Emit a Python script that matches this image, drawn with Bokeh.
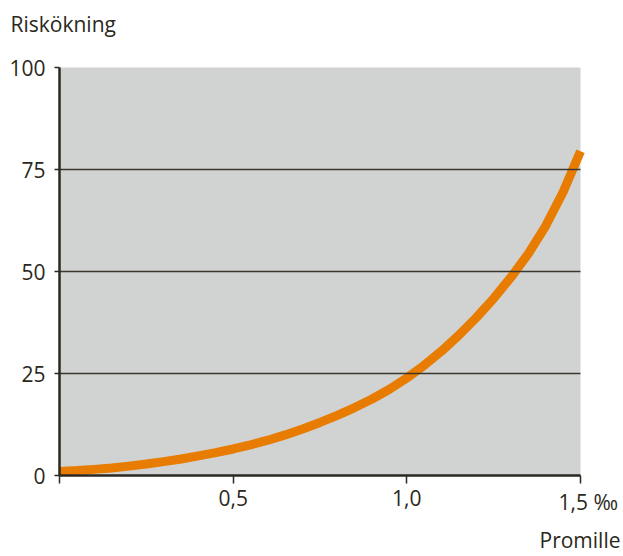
from bokeh.plotting import figure
from bokeh.models import Range1d, FixedTicker, CustomJSTickFormatter, Label, LinearAxis
from bokeh.embed import file_html
from bokeh.resources import INLINE

# Data
promille = [0.0, 0.05, 0.1, 0.15, 0.2, 0.25, 0.3, 0.35, 0.4, 0.45, 0.5, 0.55, 0.6, 0.65, 0.7, 0.75,
            0.8, 0.85, 0.9, 0.95, 1.0, 1.05, 1.1, 1.15, 1.2, 1.25, 1.3, 1.35, 1.4, 1.45, 1.5]
riskokning = [1.0, 1.2, 1.5, 1.85, 2.3, 2.8, 3.4, 4.05, 4.8, 5.6, 6.5, 7.5, 8.65, 9.95, 11.4, 13.0,
              14.75, 16.65, 18.75, 21.15, 23.9, 27.0, 30.5, 34.4, 38.7, 43.4, 48.6, 54.4, 61.2, 69.5, 79.5]
y_ticks = [0, 25, 50, 75, 100]
grid_ticks = [25, 50, 75]
x_ticks = [0, 0.5, 1.0, 1.5]
x_tick_labels = {"0.5": "0,5", "1": "1,0"}

TEXT = "#2b2820"
FONT = "Open Sans"

# Frame covers the whole canvas; axes are placed at fixed data locations.
p = figure(width=623, height=556, output_backend="svg", toolbar_location=None,
           x_range=Range1d(-0.16987, 1.62381), y_range=Range1d(-19.853, 116.422),
           x_axis_location=None, y_axis_location=None,
           min_border=0)
p.center = []
p.background_fill_color = "white"
p.border_fill_color = "white"
p.outline_line_color = None

# grey plotting area
p.quad(left=x_ticks[0], right=x_ticks[-1], bottom=y_ticks[0], top=y_ticks[-1],
       fill_color="#d1d3d2", line_color=None)

p.line(promille, riskokning, line_width=9, line_color="#e87c00", line_cap="butt", line_join="round")

# horizontal grid lines (on top of the curve)
p.segment(x0=[x_ticks[0]] * len(grid_ticks), x1=[x_ticks[-1]] * len(grid_ticks),
          y0=grid_ticks, y1=grid_ticks, line_color="#3a372d", line_width=1.5)

# y axis
ya = LinearAxis(fixed_location=0, bounds=(0, 100), ticker=FixedTicker(ticks=y_ticks))
ya.minor_tick_line_color = None
ya.major_tick_in = 0
ya.major_tick_out = 5
ya.major_tick_line_color = TEXT
ya.major_tick_line_width = 1.5
ya.axis_line_color = TEXT
ya.axis_line_width = 2.5
ya.major_label_text_font = FONT
ya.major_label_text_font_size = "21px"
ya.major_label_text_color = TEXT
ya.major_label_standoff = 9
p.add_layout(ya, "left")

# x axis
xa = LinearAxis(fixed_location=0, bounds=(0, 1.5), ticker=FixedTicker(ticks=x_ticks))
xa.formatter = CustomJSTickFormatter(args=dict(labels=x_tick_labels),
                                     code="const k = String(tick); return (k in labels) ? labels[k] : '';")
xa.minor_tick_line_color = None
xa.major_tick_in = 0
xa.major_tick_out = 8
xa.major_tick_line_color = TEXT
xa.major_tick_line_width = 1.5
xa.axis_line_color = TEXT
xa.axis_line_width = 2.5
xa.major_label_text_font = FONT
xa.major_label_text_font_size = "21px"
xa.major_label_text_color = TEXT
xa.major_label_standoff = 6
p.add_layout(xa, "below")

def lab(text, x, y, align, size="21px"):
    return Label(x=x, y=y, text=text, text_font=FONT, text_font_size=size,
                 text_color=TEXT, text_align=align, text_baseline="alphabetic")

p.add_layout(lab("Riskökning", -0.14107, 110.6, "left"))
p.add_layout(lab("1,5 \u2030", 1.43667, -6.4, "left"))
p.add_layout(lab("Promille", 1.61519, -15.9, "right"))

open("out.html", "w").write(file_html(p, INLINE))
